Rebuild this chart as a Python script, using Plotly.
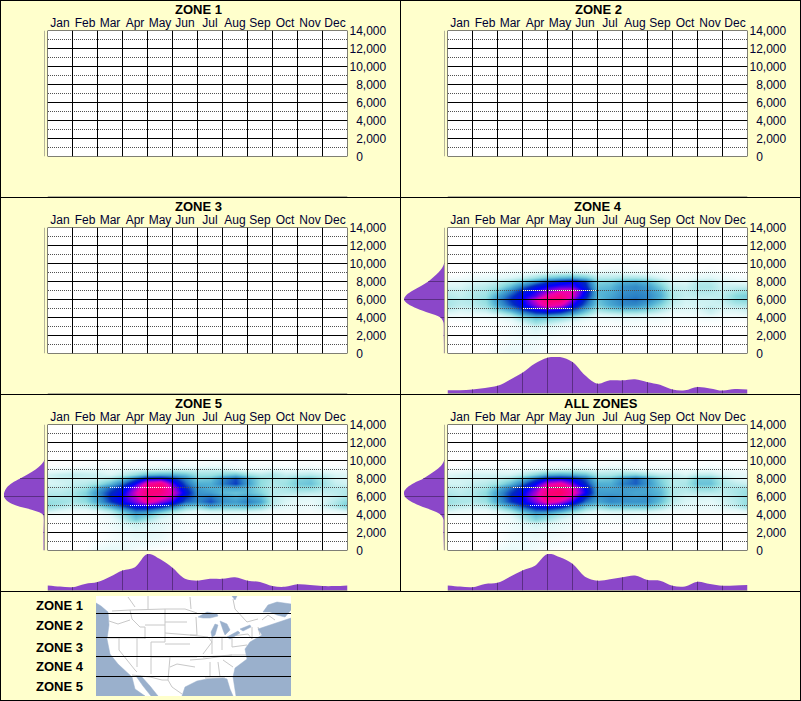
"""
Seasonal elevation density panels by latitude zone, with a small key map.
"""

import numpy as np
import plotly.graph_objects as go

# ── Palette ───────────────────────────────────────────────────────────────────
PAPER = "#ffffcc"
PURPLE = "#8b47c9"
PURPLE_DARK = "#5a2e84"
BASE_GREY = "#6a6a6a"
DOT_GREY = "#505050"
SEA = "#9ab0cc"
STATE = "#c8c8c8"
FONT = "Liberation Sans, Arial, sans-serif"

COLORSCALE = [
    [0.00, "#ffffff"],
    [0.08, "#e0f8f8"],
    [0.20, "#90dde0"],
    [0.30, "#50b0d4"],
    [0.40, "#2a80c4"],
    [0.50, "#0028c0"],
    [0.60, "#0000ff"],
    [0.70, "#8000e0"],
    [0.80, "#f000b0"],
    [1.00, "#ff0060"],
]

# ── Data ──────────────────────────────────────────────────────────────────────
MONTHS = ["Jan", "Feb", "Mar", "Apr", "May", "Jun", "Jul", "Aug", "Sep", "Oct", "Nov", "Dec"]
ELEV_TICKS = [0, 2000, 4000, 6000, 8000, 10000, 12000, 14000]
ELEV_DOTTED = [1000, 3000, 5000, 7000, 9000, 11000, 13000]
ELEV_LABELS = ["\u00a0\u00a00", "\u00a0\u00a02,000", "\u00a0\u00a04,000", "\u00a0\u00a06,000",
               "\u00a0\u00a08,000", "10,000", "12,000", "14,000"]

HEAT_X = [0, .5, 1, 1.5, 2, 2.5, 3, 3.5, 4, 4.5, 5, 5.5, 6, 6.5, 7, 7.5, 8, 8.5, 9, 9.5, 10, 10.5, 11, 11.5, 12]
HEAT_Y = [0, 1500, 3000, 3500, 4000, 4500, 5000, 5500, 6000, 6500, 7000, 7500, 8000, 8500, 9000, 9500, 10500]

HEAT_ZONE4 = [
    [0, 0, 0, 0, 3, 6, 5, 3, 1, 0, 0, 0, 0, 0, 0, 0, 0, 0, 0, 0, 0, 0, 0, 0, 0],
    [0, 0, 0, 0, 1, 3, 4, 4, 2, 1, 1, 1, 0, 0, 0, 0, 0, 0, 0, 0, 0, 0, 0, 0, 0],
    [0, 0, 0, 1, 1, 3, 6, 10, 7, 5, 3, 2, 1, 1, 2, 2, 1, 1, 0, 0, 0, 0, 0, 0, 0],
    [0, 0, 1, 1, 2, 4, 10, 18, 14, 10, 6, 3, 2, 2, 3, 3, 2, 2, 1, 1, 1, 1, 1, 0, 0],
    [2, 2, 2, 3, 5, 9, 18, 26, 24, 20, 14, 8, 4, 5, 6, 6, 5, 4, 2, 2, 3, 4, 2, 2, 2],
    [8, 6, 7, 8, 12, 20, 34, 44, 46, 42, 32, 20, 10, 12, 14, 14, 12, 9, 5, 5, 6, 10, 6, 6, 8],
    [13, 10, 11, 14, 24, 36, 50, 62, 68, 64, 50, 32, 18, 24, 28, 28, 24, 16, 9, 8, 9, 13, 9, 10, 12],
    [16, 13, 14, 18, 32, 46, 58, 72, 88, 80, 62, 42, 24, 32, 38, 38, 32, 22, 12, 9, 10, 11, 11, 15, 16],
    [16, 14, 15, 20, 36, 50, 60, 78, 96, 95, 70, 48, 26, 34, 40, 42, 38, 28, 14, 10, 11, 11, 13, 20, 22],
    [14, 12, 15, 18, 32, 46, 58, 66, 82, 90, 78, 54, 28, 32, 38, 40, 38, 30, 15, 12, 13, 13, 13, 21, 24],
    [12, 11, 14, 16, 24, 38, 52, 62, 70, 78, 80, 58, 28, 30, 36, 38, 36, 28, 14, 12, 15, 15, 12, 16, 18],
    [9, 9, 12, 14, 18, 28, 42, 55, 62, 66, 66, 52, 26, 28, 36, 38, 34, 24, 12, 11, 16, 16, 11, 12, 12],
    [6, 7, 9, 10, 13, 18, 26, 38, 48, 55, 60, 48, 22, 24, 30, 32, 28, 18, 9, 8, 14, 14, 9, 7, 6],
    [2, 3, 5, 6, 7, 9, 12, 18, 24, 28, 30, 25, 14, 14, 16, 16, 14, 9, 5, 4, 7, 8, 5, 3, 2],
    [0, 0, 2, 2, 3, 4, 5, 7, 9, 10, 11, 9, 7, 8, 7, 6, 6, 4, 2, 2, 3, 4, 2, 1, 0],
    [0, 0, 0, 0, 0, 1, 1, 2, 3, 4, 4, 3, 2, 3, 3, 2, 2, 1, 1, 0, 0, 1, 0, 0, 0],
    [0, 0, 0, 0, 0, 0, 0, 0, 0, 0, 0, 0, 0, 0, 0, 0, 0, 0, 0, 0, 0, 0, 0, 0, 0],
]

HEAT_ZONE5 = [
    [0, 0, 0, 0, 5, 7, 6, 3, 1, 0, 0, 0, 0, 0, 0, 0, 0, 0, 0, 0, 0, 0, 0, 0, 0],
    [0, 0, 0, 0, 0, 2, 4, 6, 6, 5, 2, 1, 0, 0, 0, 0, 0, 0, 0, 0, 0, 0, 0, 0, 0],
    [0, 0, 0, 1, 2, 4, 8, 11, 9, 7, 4, 2, 1, 1, 1, 1, 1, 1, 0, 0, 0, 0, 0, 0, 0],
    [0, 0, 1, 1, 2, 4, 12, 24, 16, 8, 5, 2, 2, 2, 3, 2, 2, 1, 1, 0, 0, 0, 0, 0, 0],
    [2, 2, 2, 2, 3, 8, 18, 30, 26, 14, 8, 4, 3, 4, 4, 4, 3, 3, 2, 1, 1, 1, 1, 1, 2],
    [12, 8, 6, 6, 9, 16, 28, 42, 40, 30, 20, 12, 8, 12, 12, 12, 12, 10, 5, 4, 4, 3, 5, 7, 10],
    [20, 16, 12, 14, 22, 34, 48, 60, 62, 56, 44, 28, 24, 34, 28, 28, 30, 24, 12, 8, 6, 5, 10, 16, 24],
    [19, 18, 16, 20, 32, 48, 60, 70, 84, 72, 62, 44, 38, 46, 36, 34, 40, 32, 14, 9, 7, 6, 9, 15, 22],
    [16, 16, 16, 22, 34, 52, 62, 76, 92, 86, 72, 50, 38, 42, 34, 30, 34, 28, 13, 10, 9, 8, 9, 12, 16],
    [14, 14, 16, 22, 36, 50, 58, 78, 94, 92, 78, 56, 36, 34, 28, 26, 28, 22, 14, 14, 14, 13, 12, 13, 15],
    [12, 12, 14, 18, 30, 44, 54, 72, 92, 96, 74, 50, 34, 30, 30, 32, 28, 20, 14, 16, 20, 20, 15, 14, 14],
    [9, 10, 12, 14, 18, 28, 42, 62, 86, 92, 66, 44, 30, 30, 40, 48, 34, 20, 15, 18, 24, 26, 18, 12, 10],
    [9, 11, 11, 11, 12, 16, 26, 44, 60, 62, 52, 38, 24, 26, 38, 46, 32, 20, 16, 16, 22, 24, 16, 10, 9],
    [10, 12, 13, 12, 11, 9, 13, 20, 28, 30, 30, 26, 18, 18, 22, 26, 18, 14, 16, 12, 13, 14, 12, 9, 8],
    [4, 5, 7, 7, 7, 5, 7, 9, 10, 11, 12, 11, 11, 12, 11, 8, 6, 6, 8, 6, 6, 7, 5, 4, 4],
    [1, 1, 1, 2, 3, 2, 3, 3, 4, 5, 5, 4, 4, 5, 5, 3, 2, 2, 2, 1, 2, 2, 1, 1, 1],
    [0, 0, 0, 0, 0, 0, 0, 0, 0, 0, 0, 0, 0, 0, 0, 0, 0, 0, 0, 0, 0, 0, 0, 0, 0],
]

HEAT_ALL = [
    [0, 0, 0, 0, 4, 6, 5, 3, 1, 0, 0, 0, 0, 0, 0, 0, 0, 0, 0, 0, 0, 0, 0, 0, 0],
    [0, 0, 0, 0, 0, 3, 4, 5, 4, 3, 2, 1, 0, 0, 0, 0, 0, 0, 0, 0, 0, 0, 0, 0, 0],
    [0, 0, 0, 1, 2, 4, 7, 10, 8, 6, 4, 2, 1, 1, 1, 1, 1, 1, 0, 0, 0, 0, 0, 0, 0],
    [0, 0, 1, 1, 2, 4, 12, 22, 16, 9, 5, 3, 2, 2, 3, 2, 2, 1, 1, 0, 0, 0, 0, 0, 0],
    [2, 2, 2, 2, 4, 8, 18, 28, 24, 16, 10, 5, 3, 4, 5, 4, 4, 3, 2, 1, 1, 1, 1, 1, 2],
    [10, 7, 6, 6, 10, 18, 30, 42, 42, 34, 24, 14, 9, 12, 12, 12, 12, 9, 5, 4, 4, 4, 5, 6, 9],
    [16, 13, 11, 13, 22, 34, 48, 60, 64, 58, 44, 28, 22, 28, 28, 28, 28, 20, 10, 8, 7, 6, 9, 13, 20],
    [18, 16, 15, 18, 32, 48, 58, 70, 84, 76, 62, 42, 32, 38, 36, 36, 36, 26, 13, 9, 8, 7, 10, 14, 20],
    [17, 15, 15, 20, 34, 50, 60, 76, 94, 92, 74, 50, 34, 38, 36, 34, 36, 28, 14, 10, 10, 9, 11, 15, 19],
    [15, 13, 15, 20, 34, 48, 58, 74, 94, 98, 84, 60, 34, 34, 34, 32, 32, 28, 15, 13, 14, 14, 13, 16, 19],
    [13, 12, 14, 17, 28, 42, 54, 68, 88, 94, 80, 58, 32, 32, 34, 34, 32, 26, 15, 15, 20, 20, 14, 16, 17],
    [10, 10, 12, 14, 18, 28, 42, 60, 78, 84, 68, 50, 30, 30, 40, 44, 36, 24, 14, 16, 26, 26, 16, 13, 11],
    [9, 10, 10, 11, 13, 18, 28, 44, 58, 60, 56, 44, 24, 26, 36, 44, 34, 22, 14, 14, 24, 24, 14, 9, 8],
    [8, 9, 10, 10, 10, 10, 14, 22, 30, 32, 30, 26, 16, 16, 20, 22, 17, 13, 12, 9, 13, 13, 9, 7, 6],
    [3, 3, 5, 5, 5, 5, 6, 8, 10, 11, 12, 10, 8, 10, 9, 7, 6, 5, 5, 4, 5, 6, 4, 3, 3],
    [0, 0, 1, 1, 2, 1, 2, 3, 4, 5, 5, 4, 3, 4, 4, 3, 2, 2, 1, 1, 1, 2, 1, 0, 0],
    [0, 0, 0, 0, 0, 0, 0, 0, 0, 0, 0, 0, 0, 0, 0, 0, 0, 0, 0, 0, 0, 0, 0, 0, 0],
]

# share of the peak along the left edge, by elevation
SIDE_Y = [0, 1000, 2000, 3000, 3500, 4000, 4500, 5000, 5500, 6000, 6500, 7000, 7500, 8000, 8500, 9000, 9500, 10000, 10500, 14000]
SIDE_ZONE4 = [1.5, 1.5, 2, 2, 3, 10, 38, 68, 90, 100, 94, 78, 58, 40, 27, 15, 6, 1, 0, 0]
SIDE_ZONE5 = [2.5, 2.5, 2.5, 2, 2, 4, 30, 70, 92, 100, 99, 93, 80, 60, 40, 22, 9, 1, 0, 0]
SIDE_ALL = [1.5, 2, 2.5, 2.5, 3, 10, 33, 62, 85, 98, 100, 92, 75, 52, 35, 19, 7, 1, 0, 0]

# share of the peak along the bottom edge, by month position
BOTTOM_ZONE4 = [9, 9, 11, 15, 21, 38, 57, 82, 98, 100, 86, 50, 27, 36, 36, 39, 31, 24, 11, 9, 18, 14, 8, 12, 11]
BOTTOM_ZONE5 = [14, 11, 9, 18, 23, 38, 55, 64, 100, 86, 62, 32, 27, 32, 32, 36, 27, 23, 12, 10, 17, 15, 12, 12, 14]
BOTTOM_ALL = [14, 11, 9, 18, 21, 38, 55, 68, 100, 91, 73, 38, 27, 31, 36, 41, 29, 27, 13, 11, 24, 18, 13, 14, 15]

# stretches of the dotted lines that flip to white over the dark core: (elevation, from month, to month)
DOT_START = 0.02
WHITE_ZONE4 = [(7000, 3.02, 6.02), (5000, 3.02, 5.02)]
WHITE_ZONE5 = [(7000, 2.5, 5.02), (5000, 3.3, 4.9)]
WHITE_ALL = [(7000, 2.62, 5.62), (5000, 3.3, 4.9)]

PANELS = [
    ("ZONE 1", 0, 0, 198, None, None, None, []),
    ("ZONE 2", 400, 0, 598, None, None, None, []),
    ("ZONE 3", 0, 197, 198, None, None, None, []),
    ("ZONE 4", 400, 197, 598, HEAT_ZONE4, SIDE_ZONE4, BOTTOM_ZONE4, WHITE_ZONE4),
    ("ZONE 5", 0, 394, 198, HEAT_ZONE5, SIDE_ZONE5, BOTTOM_ZONE5, WHITE_ZONE5),
    ("ALL ZONES", 400, 394, 601, HEAT_ALL, SIDE_ALL, BOTTOM_ALL, WHITE_ALL),
]

# Key map, in picture pixels
KEY_LABELS = ["ZONE 1", "ZONE 2", "ZONE 3", "ZONE 4", "ZONE 5"]
KEY_LABEL_Y = [605, 625, 647, 666, 686]
KEY_LINES_Y = [613.5, 637.5, 656.5, 676.5]
SEA_POLYS = [
    [(96, 603), (101, 606), (108, 612), (109, 625), (107, 639), (110, 654), (118, 664), (127, 672), (132, 677),
     (135, 689), (145, 696), (96, 696), (96, 603)],
    [(136, 676), (141, 676), (150, 686), (158, 696), (151, 696), (143, 686), (136, 676)],
    [(182, 696), (185, 687), (197, 681), (207, 679), (223, 678), (227, 679), (230, 689), (233, 696), (182, 696)],
    [(236, 696), (233, 677), (235, 668), (247, 659), (245, 649), (250, 642), (262, 635), (258, 629), (270, 625),
     (280, 622), (291, 618), (291, 696), (236, 696)],
    [(263, 612), (268, 605), (277, 602), (291, 604), (291, 610), (285, 617), (277, 615), (270, 612), (263, 612)],
    [(232, 596), (237, 596), (235, 600), (232, 596)],
    [(198, 617), (207, 612), (217, 614), (218, 616), (210, 618), (203, 618), (198, 617)],
    [(215, 624), (218, 625), (215, 635), (212, 637), (211, 632), (215, 624)],
    [(220, 621), (227, 624), (230, 630), (225, 635), (223, 630), (220, 621)],
    [(227, 637), (238, 631), (240, 633), (230, 639), (227, 637)],
    [(240, 629), (250, 625), (251, 627), (243, 631), (240, 629)],
]
STATE_LINES = [
    [(128, 597), (135, 607)], [(148, 596), (148, 609)], [(190, 597), (191, 609)],
    [(112, 611), (130, 610), (165, 609), (185, 609), (197, 613)],
    [(130, 610), (132, 619), (140, 627), (145, 627), (145, 639)],
    [(109, 621), (118, 624), (130, 620)], [(108, 638), (145, 638)],
    [(119, 638), (119, 650), (135, 670), (137, 672)], [(137, 638), (137, 667)], [(151, 642), (151, 674)],
    [(145, 625), (165, 625), (165, 642), (151, 642)], [(165, 609), (165, 625)], [(165, 622), (187, 622)],
    [(165, 633), (190, 635)], [(165, 644), (190, 644)], [(151, 657), (170, 657)], [(170, 657), (197, 657)],
    [(170, 657), (168, 680)], [(170, 667), (177, 664), (195, 667)],
    [(132, 675), (150, 677), (162, 680), (168, 680), (172, 687), (182, 694)],
    [(196, 617), (197, 635), (190, 635)], [(190, 635), (208, 637), (212, 642), (203, 654)],
    [(212, 637), (212, 654)], [(222, 637), (222, 650)], [(212, 637), (232, 637)], [(232, 637), (232, 647)],
    [(232, 636), (248, 634), (252, 639)], [(232, 647), (247, 645)], [(203, 657), (232, 655)],
    [(190, 660), (203, 659), (232, 655), (247, 655)], [(210, 662), (210, 677)], [(218, 662), (220, 677)],
    [(223, 660), (233, 667)], [(205, 678), (225, 678)], [(252, 627), (252, 639)], [(258, 627), (260, 635)],
    [(262, 620), (268, 615), (275, 620)], [(233, 599), (235, 609), (247, 622), (258, 619)],
]

W, H = 801, 701


def px_x(x):
    return x / W


def px_y(y):
    return 1 - y / H


def polyline(parts):
    xs, ys = [], []
    for part in parts:
        for x, y in part:
            xs.append(x)
            ys.append(y)
        xs.append(None)
        ys.append(None)
    return xs, ys


fig = go.Figure()
layout = {}
shapes = []
annotations = []
axis_no = 1


def new_axes(x_dom, y_dom, xaxis, yaxis):
    """Register an axis pair placed by picture pixels, return its trace refs."""
    global axis_no
    axis_no += 1
    n = axis_no
    layout[f"xaxis{n}"] = dict(domain=[px_x(x_dom[0]), px_x(x_dom[1])], anchor=f"y{n}", **xaxis)
    layout[f"yaxis{n}"] = dict(domain=[px_y(y_dom[1]), px_y(y_dom[0])], anchor=f"x{n}", **yaxis)
    return f"x{n}", f"y{n}"


HIDDEN = dict(visible=False, fixedrange=True)

for title, ox, oy, title_x, heat, side, bottom, white in PANELS:
    annotations.append(dict(text=f"<b>{title}</b>", x=px_x(title_x), y=px_y(oy + 9), xref="paper", yref="paper",
                            showarrow=False, xanchor="center", yanchor="middle",
                            font=dict(family=FONT, size=13, color="#000000")))

    # main grid
    xr, yr = new_axes(
        (ox + 47.5, ox + 347.5), (oy + 30.5, oy + 156.5),
        dict(range=[0, 12], side="top", tickmode="array", tickvals=[i + 0.5 for i in range(12)], ticktext=MONTHS,
             showgrid=False, zeroline=False, ticks="", ticklabelstandoff=0, showline=False,
             tickfont=dict(family=FONT, size=12, color="#000033"), fixedrange=True),
        dict(range=[0, 14000], side="right", tickmode="array", tickvals=ELEV_TICKS, ticktext=ELEV_LABELS,
             showgrid=False, zeroline=False, ticks="", showline=False, ticklabelstandoff=1,
             tickfont=dict(family=FONT, size=12, color="#000033"), fixedrange=True),
    )
    shapes.append(dict(type="rect", xref=f"{xr} domain", yref=f"{yr} domain", x0=0, x1=1, y0=0, y1=1,
                       fillcolor="#ffffff", line_width=0, layer="below"))
    if heat is not None:
        fig.add_trace(go.Heatmap(x=HEAT_X, y=HEAT_Y, z=heat, xaxis=xr, yaxis=yr, zmin=0, zmax=100,
                                 colorscale=COLORSCALE, zsmooth="best", showscale=False, hoverinfo="skip"))

    dot_x, dot_y = polyline([[(DOT_START, e), (12, e)] for e in ELEV_DOTTED])
    fig.add_trace(go.Scatter(x=dot_x, y=dot_y, xaxis=xr, yaxis=yr, mode="lines", hoverinfo="skip", showlegend=False,
                             line=dict(color=DOT_GREY, width=1, dash="1px,1px")))
    if white:
        wx, wy = polyline([[(a, e), (b, e)] for e, a, b in white])
        fig.add_trace(go.Scatter(x=wx, y=wy, xaxis=xr, yaxis=yr, mode="lines", hoverinfo="skip", showlegend=False,
                                 line=dict(color="#ffffff", width=1, dash="1px,1px")))
    grid_x, grid_y = polyline([[(m, 0), (m, 14000)] for m in range(13)] + [[(0, e), (12, e)] for e in ELEV_TICKS])
    fig.add_trace(go.Scatter(x=grid_x, y=grid_y, xaxis=xr, yaxis=yr, mode="lines", hoverinfo="skip", showlegend=False,
                             cliponaxis=False, line=dict(color="#000000", width=1)))

    # left profile
    xr, yr = new_axes((ox + 4, ox + 44.5), (oy + 30.5, oy + 156.5),
                      dict(range=[100, 0], **HIDDEN), dict(range=[0, 14000], **HIDDEN))
    if side is not None:
        fig.add_trace(go.Scatter(x=side, y=SIDE_Y, xaxis=xr, yaxis=yr, mode="lines", fill="tozerox", line_shape="spline",
                                 fillcolor=PURPLE, line=dict(color=PURPLE, width=0), hoverinfo="skip", showlegend=False))
        tx, ty = polyline([[(np.interp(e, SIDE_Y, side), e), (0, e)] for e in ELEV_TICKS[1:6]])
        fig.add_trace(go.Scatter(x=tx, y=ty, xaxis=xr, yaxis=yr, mode="lines", hoverinfo="skip", showlegend=False,
                                 line=dict(color=PURPLE_DARK, width=1)))
    fig.add_trace(go.Scatter(x=[0, 0], y=[0, 14000], xaxis=xr, yaxis=yr, mode="lines", hoverinfo="skip", showlegend=False,
                             cliponaxis=False, line=dict(color=BASE_GREY, width=1)))

    # bottom profile
    xr, yr = new_axes((ox + 47.5, ox + 347.5), (oy + 160, oy + 196.5),
                      dict(range=[0, 12], **HIDDEN), dict(range=[0, 100], **HIDDEN))
    if bottom is not None:
        fig.add_trace(go.Scatter(x=HEAT_X, y=bottom, xaxis=xr, yaxis=yr, mode="lines", fill="tozeroy", line_shape="spline",
                                 fillcolor=PURPLE, line=dict(color=PURPLE, width=0), hoverinfo="skip", showlegend=False))
        tx, ty = polyline([[(m, 0), (m, np.interp(m, HEAT_X, bottom))] for m in range(1, 12)])
        fig.add_trace(go.Scatter(x=tx, y=ty, xaxis=xr, yaxis=yr, mode="lines", hoverinfo="skip", showlegend=False,
                                 line=dict(color=PURPLE_DARK, width=1)))
    fig.add_trace(go.Scatter(x=[0, 12], y=[0, 0], xaxis=xr, yaxis=yr, mode="lines", hoverinfo="skip", showlegend=False,
                             cliponaxis=False, line=dict(color=BASE_GREY, width=1)))

# key map
xr, yr = new_axes((96, 291), (596, 696), dict(range=[96, 291], **HIDDEN), dict(range=[696, 596], **HIDDEN))
shapes.append(dict(type="rect", xref=f"{xr} domain", yref=f"{yr} domain", x0=0, x1=1, y0=0, y1=1,
                   fillcolor="#ffffff", line_width=0, layer="below"))
line_x, line_y = polyline(STATE_LINES)
fig.add_trace(go.Scatter(x=line_x, y=line_y, xaxis=xr, yaxis=yr, mode="lines", hoverinfo="skip", showlegend=False,
                         line=dict(color=STATE, width=1)))
for poly in SEA_POLYS:
    sea_x, sea_y = zip(*poly)
    fig.add_trace(go.Scatter(x=sea_x, y=sea_y, xaxis=xr, yaxis=yr, mode="lines", fill="toself", fillcolor=SEA,
                             line=dict(color=SEA, width=0.5), hoverinfo="skip", showlegend=False))
key_x, key_y = polyline([[(96, y), (291, y)] for y in KEY_LINES_Y])
fig.add_trace(go.Scatter(x=key_x, y=key_y, xaxis=xr, yaxis=yr, mode="lines", hoverinfo="skip", showlegend=False,
                         line=dict(color="#000000", width=1)))
for label, y in zip(KEY_LABELS, KEY_LABEL_Y):
    annotations.append(dict(text=f"<b>{label}</b>", x=px_x(34), y=px_y(y), xref="paper", yref="paper", showarrow=False,
                            xanchor="left", yanchor="middle", font=dict(family=FONT, size=13, color="#000000")))

# panel frame
for y in [0.5, 197.5, 394.5, 591.5, 700.5]:
    shapes.append(dict(type="line", xref="paper", yref="paper", x0=0, x1=1, y0=px_y(y), y1=px_y(y),
                       line=dict(color="#000000", width=1)))
for x, y1 in [(0.5, 700.5), (400.5, 591.5), (800.5, 700.5)]:
    shapes.append(dict(type="line", xref="paper", yref="paper", x0=px_x(x), x1=px_x(x), y0=1, y1=px_y(y1),
                       line=dict(color="#000000", width=1)))

fig.update_layout(
    width=W, height=H, autosize=False,
    margin=dict(l=0, r=0, t=0, b=0, autoexpand=False),
    paper_bgcolor=PAPER, plot_bgcolor="rgba(0,0,0,0)",
    font=dict(family=FONT, size=12),
    showlegend=False, shapes=shapes, annotations=annotations,
    **layout,
)

fig.write_html("out.html", config=dict(displayModeBar=False),
               post_script="document.body.style.margin='0';")
